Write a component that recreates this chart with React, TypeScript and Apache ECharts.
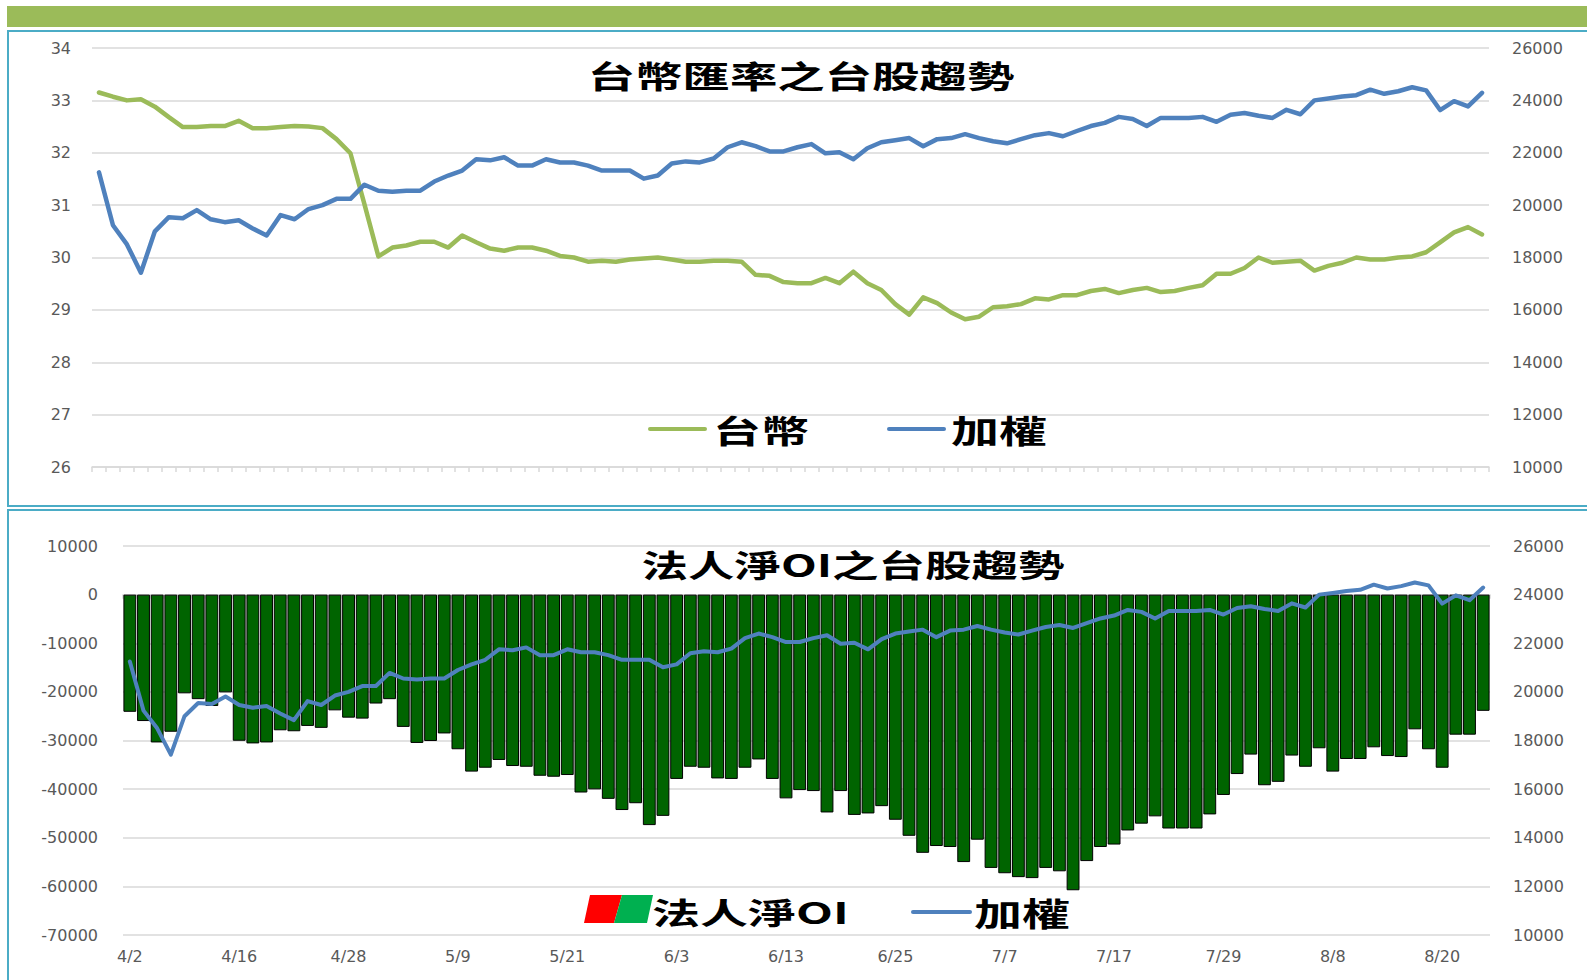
import React, { useEffect, useRef } from 'react';
import * as echarts from 'echarts';

// Trading dates (2025)
const dates = [
  '4/2', '4/7', '4/8', '4/9', '4/10', '4/11', '4/14', '4/15', '4/16', '4/17',
  '4/18', '4/21', '4/22', '4/23', '4/24', '4/25', '4/28', '4/29', '4/30', '5/2',
  '5/5', '5/6', '5/7', '5/8', '5/9', '5/12', '5/13', '5/14', '5/15', '5/16',
  '5/19', '5/20', '5/21', '5/22', '5/23', '5/26', '5/27', '5/28', '5/29', '6/2',
  '6/3', '6/4', '6/5', '6/6', '6/9', '6/10', '6/11', '6/12', '6/13', '6/16',
  '6/17', '6/18', '6/19', '6/20', '6/23', '6/24', '6/25', '6/26', '6/27', '6/30',
  '7/1', '7/2', '7/3', '7/4', '7/7', '7/8', '7/9', '7/10', '7/11', '7/14',
  '7/15', '7/16', '7/17', '7/18', '7/21', '7/22', '7/23', '7/24', '7/25', '7/28',
  '7/29', '7/30', '7/31', '8/1', '8/4', '8/5', '8/6', '8/7', '8/8', '8/11',
  '8/12', '8/13', '8/14', '8/15', '8/18', '8/19', '8/20', '8/21', '8/22', '8/25',
];

// 台幣 (USD/TWD)
const twdRate = [
  33.15, 33.07, 33.0, 33.02, 32.88, 32.68, 32.49, 32.49, 32.51, 32.51,
  32.61, 32.47, 32.47, 32.49, 32.51, 32.5, 32.47, 32.26, 31.99, 31.02,
  30.02, 30.19, 30.23, 30.3, 30.3, 30.19, 30.42, 30.29, 30.17, 30.13,
  30.19, 30.19, 30.13, 30.03, 30.0, 29.92, 29.94, 29.92, 29.96, 29.98,
  30.0, 29.96, 29.92, 29.92, 29.94, 29.94, 29.92, 29.67, 29.65, 29.53,
  29.51, 29.51, 29.61, 29.51, 29.73, 29.51, 29.38, 29.11, 28.91, 29.24,
  29.13, 28.95, 28.82, 28.87, 29.05, 29.07, 29.11, 29.22, 29.2, 29.28,
  29.28, 29.36, 29.4, 29.32, 29.38, 29.42, 29.34, 29.36, 29.42, 29.47,
  29.69, 29.69, 29.8, 30.0, 29.9, 29.92, 29.94, 29.75, 29.84, 29.9,
  30.0, 29.96, 29.96, 30.0, 30.02, 30.1, 30.29, 30.48, 30.58, 30.44,
];

// 加權 (TAIEX)
const taiex = [
  21250, 19230, 18500, 17420, 19000, 19540, 19500, 19810, 19460, 19350,
  19420, 19110, 18840, 19620, 19460, 19850, 20000, 20240, 20240, 20780,
  20550, 20510, 20550, 20550, 20900, 21130, 21320, 21750, 21710, 21830,
  21510, 21510, 21750, 21630, 21630, 21510, 21320, 21320, 21320, 21010,
  21130, 21590, 21670, 21630, 21780, 22210, 22400, 22250, 22050, 22050,
  22210, 22330, 21980, 22020, 21750, 22170, 22400, 22480, 22560, 22250,
  22520, 22560, 22710, 22560, 22440, 22360, 22520, 22670, 22750, 22630,
  22830, 23020, 23140, 23370, 23290, 23020, 23330, 23330, 23330, 23370,
  23180, 23450, 23520, 23410, 23330, 23640, 23470, 24000, 24070, 24150,
  24200, 24410, 24250, 24350, 24500, 24380, 23630, 23970, 23770, 24290,
];

// 法人淨OI
const instNetOI = [
  -24100, -26000, -30400, -28200, -20300, -21500, -22900, -20100, -30050, -30600,
  -30400, -27900, -28100, -27000, -27400, -23800, -25300, -25500, -22400, -21500,
  -27200, -30500, -30100, -28550, -31800, -36400, -35600, -34000, -35250, -35400,
  -37250, -37450, -37100, -40700, -40050, -42000, -44300, -42900, -47400, -45500,
  -37900, -35400, -35600, -37800, -37900, -35600, -33900, -37900, -41900, -40200,
  -40400, -44800, -40400, -45300, -45000, -43500, -46300, -49600, -53100, -51700,
  -51900, -55000, -50400, -56200, -57300, -58100, -58300, -56200, -56900, -60800,
  -54800, -51900, -51400, -48500, -47100, -45600, -48100, -48100, -48100, -45200,
  -41200, -36900, -32900, -39200, -38500, -33100, -35400, -31600, -36400, -33800,
  -33800, -31400, -33200, -33400, -27700, -31800, -35600, -28800, -28800, -23900,
];

const topTitle = '台幣匯率之台股趨勢';
const bottomTitle = '法人淨OI之台股趨勢';
const seriesNames = { twd: '台幣', taiex: '加權', oi: '法人淨OI' };

const GREEN = '#9BBB59';
const BLUE = '#4F81BD';
const GRID = '#D9D9D9';
const LABEL = '#595959';
const PANEL = '#4BACC6';
const CJK = '"Noto Sans CJK TC", "Noto Sans CJK SC", sans-serif';

const axisLabel = (margin: number) => ({
  color: LABEL,
  fontSize: 16,
  fontFamily: 'DejaVu Sans',
  margin,
  formatter: (v: any) => String(v),
});

function bigText(text: string, x: number, y: number, align: string, size: number, sx: number) {
  return {
    type: 'text',
    x,
    y,
    scaleX: sx,
    silent: true,
    style: {
      text,
      fill: '#000',
      fontSize: size,
      fontWeight: 'bold',
      fontFamily: CJK,
      textAlign: align,
      textVerticalAlign: 'middle',
    },
  };
}

function legendLine(x1: number, x2: number, y: number, color: string) {
  return {
    type: 'line',
    silent: true,
    shape: { x1, y1: y, x2, y2: y },
    style: { stroke: color, lineWidth: 4, lineCap: 'round' },
  };
}

export default function App() {
  const ref = useRef<HTMLDivElement>(null);

  useEffect(() => {
    const chart = echarts.init(ref.current!, null, { renderer: 'svg' });
    const option: any = {
      animation: false,
      backgroundColor: '#fff',
      grid: [
        { left: 92, top: 48, width: 1397, height: 419 },
        { left: 123, top: 546, width: 1367, height: 389 },
      ],
      xAxis: [
        {
          gridIndex: 0,
          type: 'category',
          data: dates,
          boundaryGap: true,
          axisLine: { show: true, lineStyle: { color: GRID, width: 1.5 } },
          axisTick: { show: true, interval: 0, length: 5, lineStyle: { color: GRID, width: 1.5 } },
          axisLabel: { show: false },
        },
        {
          gridIndex: 1,
          type: 'category',
          data: dates,
          boundaryGap: true,
          axisLine: { show: false, onZero: false },
          axisTick: { show: false },
          axisLabel: { color: LABEL, fontSize: 16, fontFamily: 'DejaVu Sans', margin: 13, interval: 7 },
        },
        {
          gridIndex: 1,
          type: 'category',
          data: dates,
          boundaryGap: true,
          axisLine: { show: true, onZero: true, lineStyle: { color: GRID, width: 1.5 } },
          axisTick: { show: true, interval: 0, inside: true, length: 4, lineStyle: { color: GRID, width: 1.5 } },
          axisLabel: { show: false },
        },
      ],
      yAxis: [
        {
          gridIndex: 0,
          type: 'value',
          position: 'left',
          min: 26,
          max: 34,
          interval: 1,
          axisLine: { show: false },
          axisTick: { show: false },
          splitLine: { show: true, lineStyle: { color: GRID, width: 1.5 } },
          axisLabel: axisLabel(21),
        },
        {
          gridIndex: 0,
          type: 'value',
          position: 'right',
          min: 10000,
          max: 26000,
          interval: 2000,
          axisLine: { show: false },
          axisTick: { show: false },
          splitLine: { show: false },
          axisLabel: axisLabel(23),
        },
        {
          gridIndex: 1,
          type: 'value',
          position: 'left',
          min: -70000,
          max: 10000,
          interval: 10000,
          axisLine: { show: false },
          axisTick: { show: false },
          splitLine: { show: true, lineStyle: { color: GRID, width: 1.5 } },
          axisLabel: axisLabel(25),
        },
        {
          gridIndex: 1,
          type: 'value',
          position: 'right',
          min: 10000,
          max: 26000,
          interval: 2000,
          axisLine: { show: false },
          axisTick: { show: false },
          splitLine: { show: false },
          axisLabel: axisLabel(23),
        },
      ],
      series: [
        {
          name: seriesNames.twd,
          type: 'line',
          xAxisIndex: 0,
          yAxisIndex: 0,
          data: twdRate,
          symbol: 'none',
          lineStyle: { color: GREEN, width: 4.5, cap: 'round', join: 'round' },
          itemStyle: { color: GREEN },
        },
        {
          name: seriesNames.taiex,
          type: 'line',
          xAxisIndex: 0,
          yAxisIndex: 1,
          data: taiex,
          symbol: 'none',
          lineStyle: { color: BLUE, width: 4.5, cap: 'round', join: 'round' },
          itemStyle: { color: BLUE },
        },
        {
          name: seriesNames.oi,
          type: 'bar',
          xAxisIndex: 1,
          yAxisIndex: 2,
          data: instNetOI,
          barCategoryGap: '6%',
          itemStyle: { color: '#006400', borderColor: '#000', borderWidth: 1 },
        },
        {
          name: seriesNames.taiex,
          type: 'line',
          xAxisIndex: 1,
          yAxisIndex: 3,
          data: taiex,
          symbol: 'none',
          z: 5,
          lineStyle: { color: BLUE, width: 4, cap: 'round', join: 'round' },
          itemStyle: { color: BLUE },
        },
      ],
      graphic: [
        {
          type: 'rect',
          silent: true,
          shape: { x: 7, y: 6, width: 1600, height: 21 },
          style: { fill: GREEN },
        },
        {
          type: 'rect',
          silent: true,
          shape: { x: 8, y: 31, width: 1600, height: 475 },
          style: { fill: 'none', stroke: PANEL, lineWidth: 2 },
        },
        {
          type: 'rect',
          silent: true,
          shape: { x: 8, y: 510, width: 1600, height: 480 },
          style: { fill: 'none', stroke: PANEL, lineWidth: 2 },
        },
        bigText(topTitle, 801, 75, 'center', 31, 1.53),
        bigText(bottomTitle, 853, 563, 'center', 31, 1.5),
        legendLine(650, 705, 429, GREEN),
        bigText(seriesNames.twd, 713, 429, 'left', 32, 1.5),
        legendLine(889, 944, 429, BLUE),
        bigText(seriesNames.taiex, 951, 429, 'left', 32, 1.5),
        {
          type: 'polygon',
          silent: true,
          shape: { points: [[590, 895], [622, 895], [614, 923], [584, 923]] },
          style: { fill: '#FF0000' },
        },
        {
          type: 'polygon',
          silent: true,
          shape: { points: [[622, 895], [653, 895], [647, 923], [614, 923]] },
          style: { fill: '#00B050' },
        },
        bigText(seriesNames.oi, 652, 911, 'left', 30, 1.6),
        legendLine(913, 970, 912, BLUE),
        bigText(seriesNames.taiex, 974, 912, 'left', 32, 1.5),
      ],
    };
    chart.setOption(option);
    return () => chart.dispose();
  }, []);

  return (
    <div
      ref={ref}
      style={{ position: 'fixed', left: 0, top: 0, width: 1587, height: 980, background: '#fff' }}
    />
  );
}
